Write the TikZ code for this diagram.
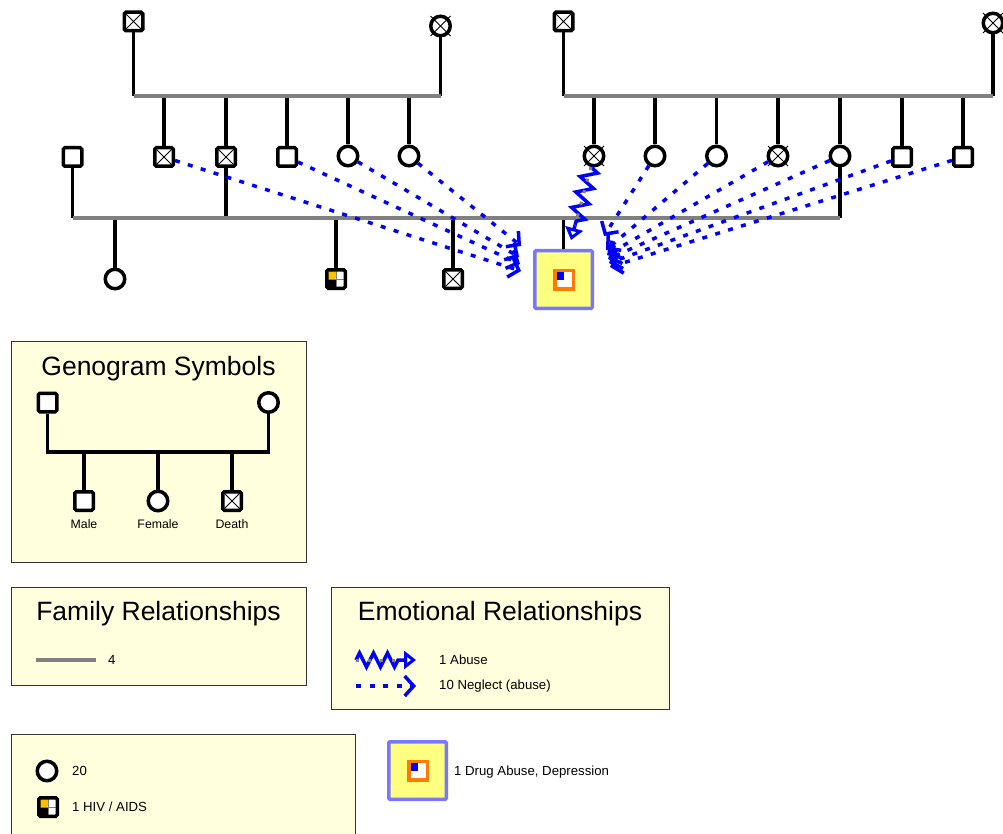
\documentclass[tikz,border=0pt]{standalone}
\usepackage{fontspec}
\setmainfont{Liberation Sans}
\usetikzlibrary{arrows.meta,decorations.pathmorphing}
\definecolor{famgray}{HTML}{808080}
\definecolor{nblue}{HTML}{0000FF}
\definecolor{cream}{HTML}{FFFFDD}
\definecolor{pborder}{HTML}{7878FF}
\definecolor{pfill}{HTML}{FFFF80}
\definecolor{porange}{HTML}{FF7A00}
\definecolor{hivy}{HTML}{FFC000}
\definecolor{boxline}{HTML}{333333}
\newcommand{\titlesz}{\fontsize{26.5}{30}\selectfont}
\newcommand{\labsz}{\fontsize{13.2}{15}\selectfont}
\newcommand{\tinysz}{\fontsize{12.3}{14}\selectfont}
\tikzset{
  sym/.style={draw=black, line width=3.5pt, fill=white, inner sep=0pt},
  msq/.style={sym, rectangle, minimum size=18.5pt, rounded corners=1.5pt},
  fci/.style={sym, circle, minimum size=19.5pt},
  dsq/.style={msq, path picture={\draw[line width=0.9pt]
     (path picture bounding box.north west) -- (path picture bounding box.south east)
     (path picture bounding box.north east) -- (path picture bounding box.south west);}},
  hivsq/.style={msq, path picture={
     \fill[hivy] (path picture bounding box.north west) rectangle (path picture bounding box.center);
     \fill[black] (path picture bounding box.south west) rectangle (path picture bounding box.center);
     \draw[gray, line width=0.8pt] (path picture bounding box.north) -- (path picture bounding box.south)
        (path picture bounding box.west) -- (path picture bounding box.east);}},
  xline/.style={black, line width=0.9pt},
  drop/.style={black, line width=3.5pt},
  marr/.style={famgray, line width=4.5pt},
  neglect/.style={nblue, line width=3.5pt, dash pattern=on 5pt off 8.5pt,
     -{Straight Barb[length=9pt, width=20pt]}},
  abuse/.style={nblue, line width=3.5pt, line join=miter, decorate,
     decoration={zigzag, amplitude=8pt, segment length=16pt, post length=13pt},
     -{Triangle[open, length=12pt, width=18pt]}},
  abusemid/.style={famgray, line width=3pt, dash pattern=on 3pt off 9pt},
  legbox/.style={draw=boxline, fill=cream, line width=1pt},
  ptbox/.style={draw=pborder, fill=pfill, line width=3.5pt, minimum size=57.5pt, inner sep=0pt, rounded corners=1pt},
  ptin/.style={draw=porange, fill=white, line width=3.5pt, minimum size=18.5pt, inner sep=0pt,
     path picture={\fill[nblue] (path picture bounding box.north west) rectangle (path picture bounding box.center);}},
  ttl/.style={inner sep=0pt, font=\titlesz},
  lbl/.style={inner sep=0pt, font=\tinysz},
  ltxt/.style={inner sep=0pt, anchor=west, font=\labsz},
}
\begin{document}
\begin{tikzpicture}[x=1pt, y=-1pt]
\useasboundingbox (0,0) rectangle (1003,834);
\clip (0,0) rectangle (1003,834);
\fill[white] (0,0) rectangle (1003,834);

% ---------- generation 1 ----------
\node[dsq] (gf1) at (133.5,21.5) {};
\node[fci] (gm1) at (440.5,26) {};
\node[dsq] (gf2) at (563.5,21.5) {};
\node[fci] (gm2) at (993,23) {};
% ---------- generation 2 ----------
\node[msq] (a1) at (72.5,157) {};
\node[dsq] (a2) at (164,157) {};
\node[dsq] (a3) at (226,157) {};
\node[msq] (a4) at (287,157) {};
\node[fci] (a5) at (348,156) {};
\node[fci] (a6) at (409,156) {};
\node[fci] (b1) at (594,156) {};
\node[fci] (b2) at (655,156) {};
\node[fci] (b3) at (716.5,156) {};
\node[fci] (b4) at (778,156) {};
\node[fci] (b5) at (840,156) {};
\node[msq] (b6) at (902,157) {};
\node[msq] (b7) at (963,157) {};
% ---------- generation 3 ----------
\node[fci] (c1) at (115,279) {};
\node[hivsq] (c2) at (336,279) {};
\node[dsq] (c3) at (453,279) {};
\node[ptbox] (p) at (563.5,279.5) {};
\node[ptin] (pin) at (564,279.5) {};

% crosses on deceased females
\foreach \n in {gm1,gm2,b1,b4}{
  \draw[xline] ([shift={(-10,-10)}]\n.center) -- ([shift={(10,10)}]\n.center);
  \draw[xline] ([shift={(10,-10)}]\n.center) -- ([shift={(-10,10)}]\n.center);
}

% ---------- family lines ----------
\coordinate (m1L) at (133.5,96);
\coordinate (m1R) at (440.5,96);
\coordinate (m2L) at (563.5,96);
\coordinate (m2R) at (993,96);
\coordinate (m3L) at (72.5,218);
\coordinate (m3R) at (840,218);

\draw[drop] (gf1) -- (m1L);
\draw[drop] (gm1) -- (m1R);
\draw[drop] (gf2) -- (m2L);
\draw[drop] (gm2) -- (m2R);
\foreach \n in {a2,a3,a4,a5,a6}{\draw[drop] (\n) -- (\n |- m1L);}
\foreach \n in {b1,b2,b3,b4,b5,b6,b7}{\draw[drop] (\n) -- (\n |- m2L);}
\draw[drop] (a1) -- (m3L);
\draw[drop] (b5) -- (m3R);
\draw[drop] (a3) -- (a3 |- m3L);
\foreach \n in {c1,c2,c3,p}{\draw[drop] (\n) -- (\n |- m3L);}
\draw[marr] (m1L) -- (m1R);
\draw[marr] (m2L) -- (m2R);
\draw[marr] (m3L) -- (m3R);

% ---------- emotional relationships ----------
\coordinate (tL1) at (521,271);
\coordinate (tL2) at (520,264);
\coordinate (tL3) at (519,257);
\coordinate (tL4) at (521,246);
\coordinate (tR1) at (604,236);
\coordinate (tR2) at (606,250);
\coordinate (tR3) at (607,255);
\coordinate (tR4) at (608,259);
\coordinate (tR5) at (609,263);
\coordinate (tR6) at (610,267);
\coordinate (tA) at (571,240);

\draw[neglect] (a2) -- (tL1);
\draw[neglect] (a4) -- (tL2);
\draw[neglect] (a5) -- (tL3);
\draw[neglect] (a6) -- (tL4);
\draw[neglect] (b2) -- (tR1);
\draw[neglect] (b3) -- (tR2);
\draw[neglect] (b4) -- (tR3);
\draw[neglect] (b5) -- (tR4);
\draw[neglect] (b6) -- (tR5);
\draw[neglect] (b7) -- (tR6);
\draw[abuse] (b1) -- (tA);
\draw[abusemid, shorten >=15pt] (b1) -- (tA);

% ---------- legend: genogram symbols ----------
\draw[legbox] (11,341) rectangle (306,562);
\node[ttl] (tg) at (158.5,369) {Genogram Symbols};
\node[msq] (ls1) at (47.5,402.5) {};
\node[fci] (lc1) at (268.5,402.5) {};
\node[msq] (lm) at (84,501) {};
\node[fci] (lf) at (158,501) {};
\node[dsq] (ld) at (232,501) {};
\coordinate (gl) at (47.5,452);
\coordinate (gr) at (268.5,452);
\draw[drop, line join=miter] (ls1) -- (gl) -- (gr) -- (lc1);
\foreach \n in {lm,lf,ld}{\draw[drop] (\n) -- (\n |- gl);}
\node[lbl] (tm) at (84,524) {Male};
\node[lbl] (tf) at (158,524) {Female};
\node[lbl] (td) at (232,524) {Death};

% ---------- legend: family relationships ----------
\draw[legbox] (11,587) rectangle (306,685);
\node[ttl] (tfam) at (158.5,614) {Family Relationships};
\coordinate (fl1) at (36,660);
\coordinate (fl2) at (96,660);
\draw[marr] (fl1) -- (fl2);
\node[ltxt] (t4) at (108,660) {4};

% ---------- legend: emotional relationships ----------
\draw[legbox] (331,587) rectangle (669,709);
\node[ttl] (temo) at (500,614) {Emotional Relationships};
\coordinate (ea1) at (356,660);
\coordinate (ea2) at (416,660);
\coordinate (en1) at (356,686);
\coordinate (en2) at (416,686);
\draw[abuse, decoration={zigzag, amplitude=7pt, segment length=14pt, post length=12pt}] (ea1) -- (ea2);
\draw[abusemid, shorten >=14pt] (ea1) -- (ea2);
\draw[neglect] (en1) -- (en2);
\node[ltxt] (tab) at (439,660) {1 Abuse};
\node[ltxt] (tne) at (439,686) {10 Neglect (abuse)};

% ---------- legend: conditions ----------
\draw[legbox] (11,734) rectangle (355,850);
\node[fci] (lcir) at (47,771) {};
\node[ltxt] (t20) at (72,771) {20};
\node[hivsq] (lhiv) at (48,807) {};
\node[ltxt] (thiv) at (72,807) {1 HIV / AIDS};

\node[ptbox] (lpt) at (417.5,770.5) {};
\node[ptin] (lpin) at (418,770.5) {};
\node[ltxt] (tdrug) at (454,772) {1 Drug Abuse, Depression};
\end{tikzpicture}
\end{document}
